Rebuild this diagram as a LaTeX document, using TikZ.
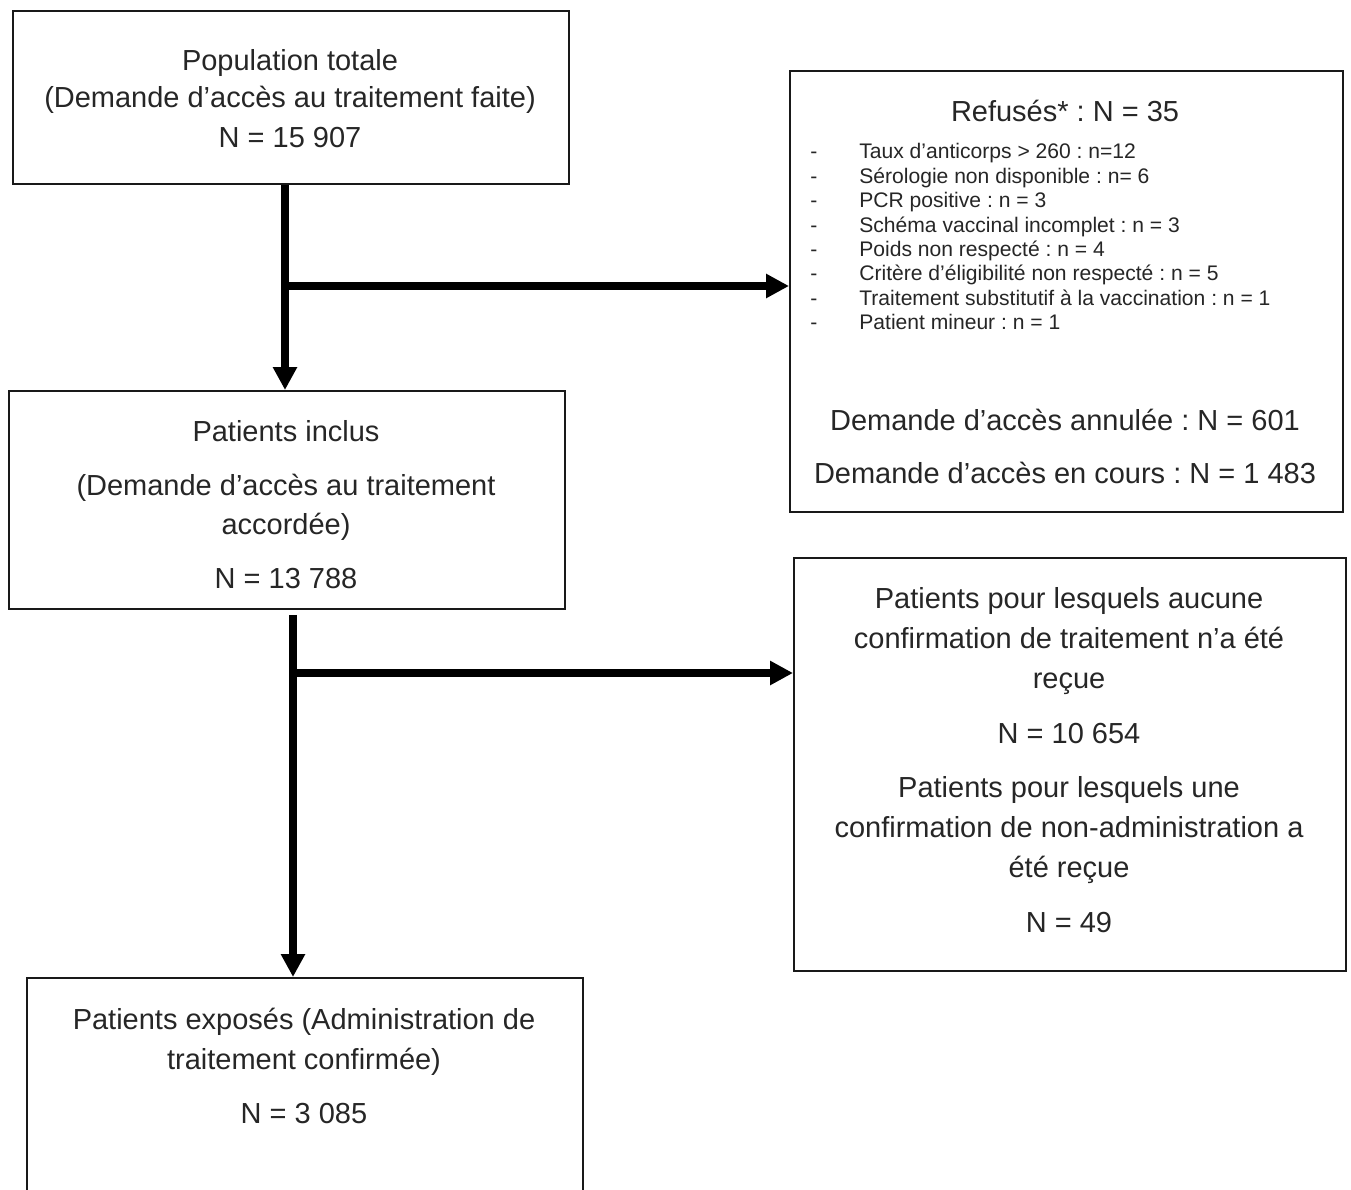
\documentclass[tikz,border=0pt]{standalone}
\usepackage{fontspec}
\setmainfont{Liberation Sans}
\usepackage{tikz}
\usetikzlibrary{arrows.meta, positioning}
\frenchspacing

\begin{document}
\begin{tikzpicture}[
    x=0.02cm, y=-0.02cm,
    every node/.style={font=\fontsize{16.5}{20}\selectfont, text=black!85, inner sep=0pt},
    box/.style={rectangle, draw=black!90, line width=0.04cm, anchor=north west},
    txt/.style={anchor=base},
    item/.style={anchor=base west, font=\fontsize{12}{14}\selectfont},
    arr/.style={-{Triangle[length=0.46cm, width=0.46cm]}, line width=0.15cm, draw=black}
]
\useasboundingbox (0,0) rectangle (1351,1189);
\clip (0,0) rectangle (1351,1189);

% --- boxes ---
\node[box, minimum width=11.12cm, minimum height=3.46cm] (pop)   at (12,10)   {};
\node[box, minimum width=11.12cm, minimum height=4.36cm] (incl)  at (8,390)   {};
\node[box, minimum width=11.06cm, minimum height=8.82cm] (ref)   at (789,70)  {};
\node[box, minimum width=11.04cm, minimum height=8.26cm] (nconf) at (793,557) {};
\node[box, minimum width=11.12cm, minimum height=5.6cm]  (expo)  at (26,977)  {};

% --- population totale ---
\node[txt] (pop1) at (290,71)  {Population totale};
\node[txt] (pop2) at (290,108) {(Demande d’accès au traitement faite)};
\node[txt] (pop3) at (290,148) {N = 15 907};

% --- refus ---
\node[txt] (ref0) at (1065,122) {Refusés* : N = 35};
\foreach \i/\lbl in {%
  0/Taux d’anticorps > 260 : n=12,
  1/Sérologie non disponible : n= 6,
  2/PCR positive : n = 3,
  3/Schéma vaccinal incomplet : n = 3,
  4/Poids non respecté : n = 4,
  5/Critère d’éligibilité non respecté : n = 5,
  6/Traitement substitutif à la vaccination : n = 1,
  7/Patient mineur : n = 1} {
    \node[item] (d\i) at (810, {159+24.4*\i}) {-};
    \node[item] (r\i) at (859, {159+24.4*\i}) {\lbl};
}
\node[txt] (ref1) at (1065,430) {Demande d’accès annulée : N = 601};
\node[txt] (ref2) at (1065,483) {Demande d’accès en cours : N = 1 483};

% --- patients inclus ---
\node[txt] (incl1) at (286,441) {Patients inclus};
\node[txt] (incl2) at (286,495) {(Demande d’accès au traitement};
\node[txt] (incl3) at (286,534) {accordée)};
\node[txt] (incl4) at (286,588) {N = 13 788};

% --- sans confirmation ---
\node[txt] (nc1) at (1069,608) {Patients pour lesquels aucune};
\node[txt] (nc2) at (1069,648) {confirmation de traitement n’a été};
\node[txt] (nc3) at (1069,688) {reçue};
\node[txt] (nc4) at (1069,743) {N = 10 654};
\node[txt] (nc5) at (1069,797) {Patients pour lesquels une};
\node[txt] (nc6) at (1069,837) {confirmation de non-administration a};
\node[txt] (nc7) at (1069,877) {été reçue};
\node[txt] (nc8) at (1069,932) {N = 49};

% --- patients exposes ---
\node[txt] (expo1) at (304,1029) {Patients exposés (Administration de};
\node[txt] (expo2) at (304,1069) {traitement confirmée)};
\node[txt] (expo3) at (304,1123) {N = 3 085};

% --- arrows ---
\coordinate (j1) at (285,286);
\coordinate (j2) at (293,673);
\draw[arr] (j1 |- pop.south) -- (j1 |- incl.north);
\draw[arr] (j1) -- (j1 -| ref.west);
\draw[arr] ([yshift=-0.1cm]j2 |- incl.south) -- (j2 |- expo.north);
\draw[arr] (j2) -- (j2 -| nconf.west);

\end{tikzpicture}
\end{document}
